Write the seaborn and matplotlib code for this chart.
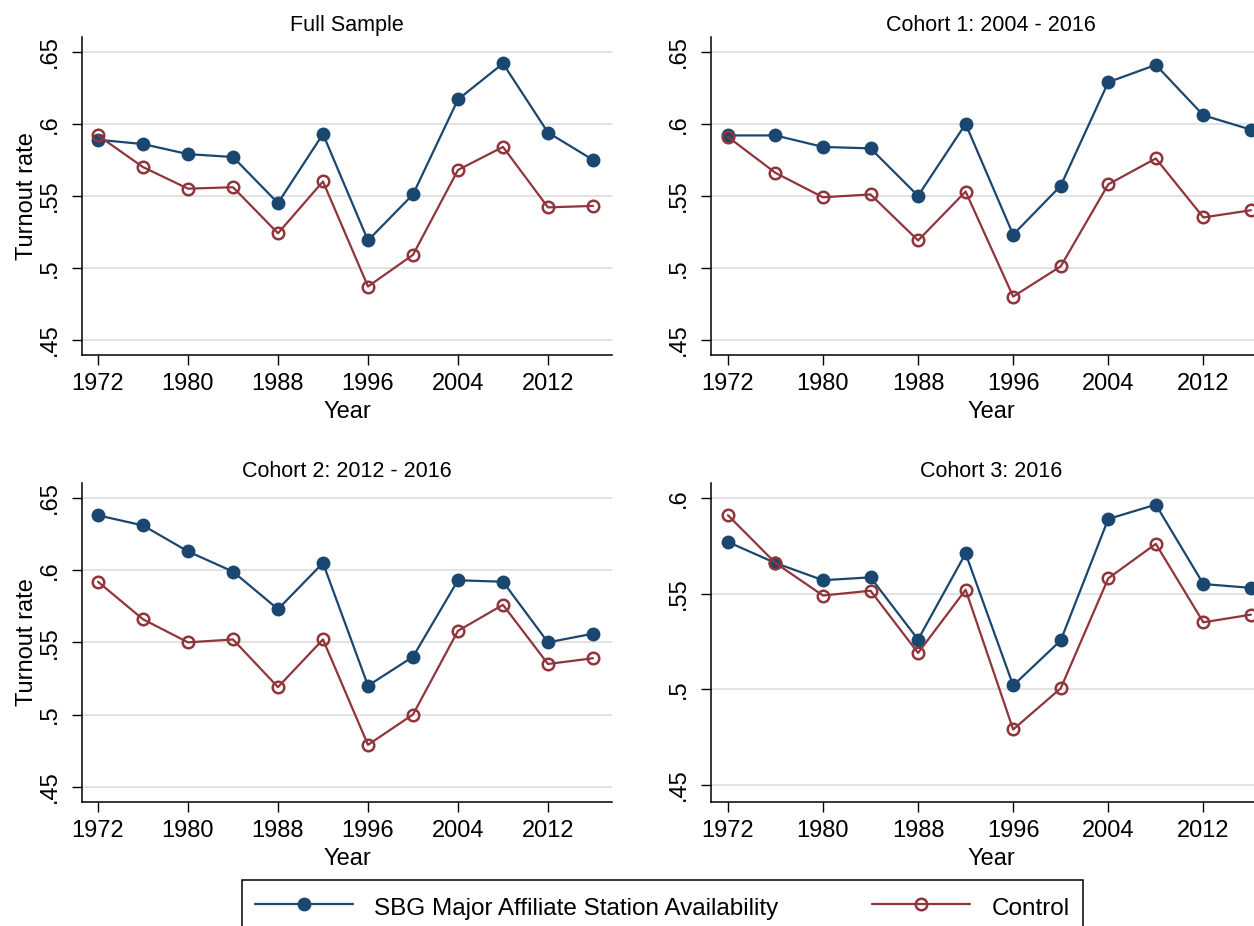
"""
Turnout rate by year: SBG major affiliate availability vs control, four samples.
"""
import numpy as np
import pandas as pd
import matplotlib
matplotlib.use("Agg")
import matplotlib.pyplot as plt
import seaborn as sns

# ---- data ----
years = [1972, 1976, 1980, 1984, 1988, 1992, 1996, 2000, 2004, 2008, 2012, 2016]

panel_titles = ["Full Sample", "Cohort 1: 2004 - 2016",
                "Cohort 2: 2012 - 2016", "Cohort 3: 2016"]
series_names = ["SBG Major Affiliate Station Availability", "Control"]

full_sbg = [.589, .586, .579, .577, .545, .593, .519, .551, .617, .642, .594, .575]
full_ctrl = [.592, .570, .555, .556, .524, .560, .487, .509, .568, .584, .542, .543]
c1_sbg = [.592, .592, .584, .583, .550, .600, .523, .557, .629, .641, .606, .596]
c1_ctrl = [.591, .566, .549, .551, .519, .553, .480, .501, .558, .576, .535, .540]
c2_sbg = [.638, .631, .613, .599, .573, .605, .520, .540, .593, .592, .550, .556]
c2_ctrl = [.592, .566, .550, .552, .519, .552, .479, .500, .558, .576, .535, .539]
c3_sbg = [.577, .566, .557, .5585, .526, .571, .502, .5255, .589, .5965, .555, .553]
c3_ctrl = [.591, .566, .549, .5515, .519, .552, .479, .5005, .558, .576, .535, .539]

xticks = [1972, 1980, 1988, 1996, 2004, 2012]
yticks_main = [.45, .5, .55, .6, .65]
yticks_c3 = [.45, .5, .55, .6]
ytick_labels_main = [".45", ".5", ".55", ".6", ".65"]
ytick_labels_c3 = [".45", ".5", ".55", ".6"]

# long table for seaborn
rows = []
for title, sbg, ctrl in zip(panel_titles,
                            [full_sbg, c1_sbg, c2_sbg, c3_sbg],
                            [full_ctrl, c1_ctrl, c2_ctrl, c3_ctrl]):
    for name, vals in zip(series_names, [sbg, ctrl]):
        for yr, v in zip(years, vals):
            rows.append({"panel": title, "series": name, "Year": yr, "turnout": v})
df = pd.DataFrame(rows)

# ---- style ----
sns.set_style("white")
plt.rcParams["font.family"] = ["Liberation Sans", "DejaVu Sans"]
plt.rcParams["text.color"] = "black"
plt.rcParams["axes.labelcolor"] = "black"

NAVY = "#1a476f"
MAROON = "#90353b"
GRID = "#e1e1e1"

W, H = 1254, 926
fig = plt.figure(figsize=(W / 100, H / 100), dpi=100)


def px_axes(left, right, top, bottom):
    return fig.add_axes([left / W, 1 - bottom / H, (right - left) / W, (bottom - top) / H])


# right-hand panels run past the right edge, as in the (cropped) reference
axes = [
    px_axes(82, 612, 37, 355),
    px_axes(711, 1271, 37, 355),
    px_axes(82, 612, 483, 802),
    px_axes(711, 1271, 483, 802),
]

for i, (ax, title) in enumerate(zip(axes, panel_titles)):
    sub = df[df["panel"] == title]
    sns.lineplot(data=sub[sub["series"] == series_names[0]], x="Year", y="turnout",
                 ax=ax, color=NAVY, lw=1.6, marker="o", markersize=10,
                 markeredgewidth=0, markerfacecolor=NAVY, label=series_names[0],
                 zorder=3)
    sns.lineplot(data=sub[sub["series"] == series_names[1]], x="Year", y="turnout",
                 ax=ax, color=MAROON, lw=1.6, marker="o", markersize=8.3,
                 markeredgewidth=1.8, markerfacecolor="none",
                 markeredgecolor=MAROON, label=series_names[1], zorder=4)
    ax.get_legend().remove()

    ax.set_xlim(1970.58, 2017.69)
    ax.set_xticks(xticks)
    if i == 3:
        ax.set_ylim(.4411, .6078)
        ax.set_yticks(yticks_c3)
        ax.set_yticklabels(ytick_labels_c3, rotation=90, va="center")
    else:
        ax.set_ylim(.4394, .6604)
        ax.set_yticks(yticks_main)
        ax.set_yticklabels(ytick_labels_main, rotation=90, va="center")

    ax.yaxis.grid(True, color=GRID, lw=1.3)
    ax.xaxis.grid(False)
    ax.set_axisbelow(True)
    for side in ["top", "right"]:
        ax.spines[side].set_visible(False)
    for side in ["left", "bottom"]:
        ax.spines[side].set_color("black")
        ax.spines[side].set_linewidth(1.1)
    ax.tick_params(axis="both", which="major", bottom=True, left=True,
                   direction="out", length=7, width=1.0,
                   color="black", labelsize=17, labelcolor="black")
    ax.tick_params(axis="x", pad=6)
    ax.tick_params(axis="y", pad=8)

    ax.set_title(title, fontsize=15.5, pad=4, color="black")
    ax.set_xlabel("Year", fontsize=17, labelpad=4)
    if i in (0, 2):
        ax.set_ylabel("Turnout rate", fontsize=17, labelpad=1)
    else:
        ax.set_ylabel("")

# shared legend at the bottom (box runs off the lower edge like the reference)
handles, labels = axes[0].get_legend_handles_labels()
leg = fig.legend(handles, labels, loc="upper left",
                 bbox_to_anchor=(242 / W, 1 - 880 / H, (1083 - 242) / W, 0),
                 mode="expand", ncol=2, fontsize=17.5, frameon=True,
                 fancybox=False, edgecolor="black", framealpha=1,
                 handlelength=4.0, handletextpad=0.9, borderpad=0.55,
                 handleheight=1.3, borderaxespad=0)
leg.get_frame().set_linewidth(1.1)

fig.savefig("out.png", dpi=100)
